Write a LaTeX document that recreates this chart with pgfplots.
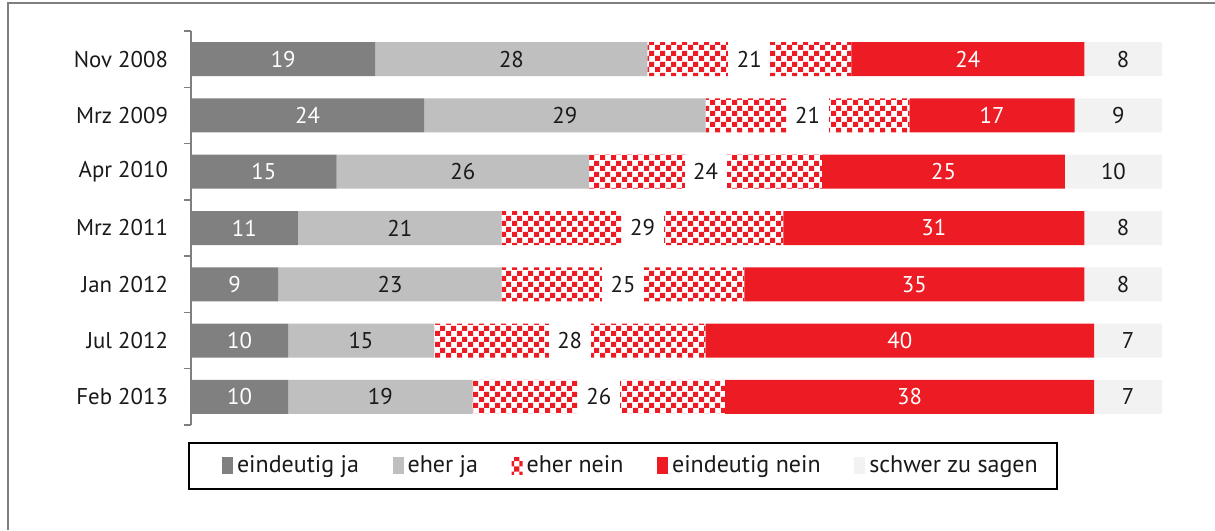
\documentclass[border=0pt]{standalone}
\usepackage{pgfplots}
\pgfplotsset{compat=1.18}
\usepackage{pgfplotstable}
\usepackage{fontspec}
\setmainfont{PT Sans}
\usetikzlibrary{patterns}
\definecolor{cA}{HTML}{808080}
\definecolor{cB}{HTML}{BFBFBF}
\definecolor{cR}{HTML}{ED1C24}
\definecolor{cE}{HTML}{F2F2F2}
\definecolor{frm}{HTML}{7F7F7F}
\definecolor{txt}{HTML}{1A1A1A}
\pgfdeclarepatternformonly{checker}{\pgfpointorigin}{\pgfqpoint{5.3pt}{5.3pt}}{\pgfqpoint{5.3pt}{5.3pt}}{%
  \pgfpathrectangle{\pgfpointorigin}{\pgfqpoint{2.65pt}{2.65pt}}%
  \pgfpathrectangle{\pgfqpoint{2.65pt}{2.65pt}}{\pgfqpoint{2.65pt}{2.65pt}}%
  \pgfusepath{fill}}
\pgfplotstableread{
y a b c d e
7 19 28 21 24 8
6 24 29 21 17 9
5 15 26 24 25 10
4 11 21 29 31 8
3 9 23 25 35 8
2 10 15 28 40 7
1 10 19 26 38 7
}\data
\newcommand{\fnt}{\fontsize{11.4}{13.5}\selectfont}
\newcommand{\lfnt}{\fontsize{12}{14}\selectfont}
\begin{document}
\begin{tikzpicture}
\path[use as bounding box] (0,0) rectangle (607.5pt,265pt);
\draw[frm, line width=0.75pt] (4pt,0) -- (4pt,263.5pt) -- (607.5pt,263.5pt);
\pgfplotsset{basestyle/.style={
  scale only axis, width=485.5pt, height=197pt, at={(95.5pt,52.5pt)}, anchor=south west,
  xmin=0, xmax=100, ymin=0.5, ymax=7.5}}
\begin{axis}[basestyle, xbar stacked, bar width=17pt,
  axis x line=none, axis y line*=left,
  y axis line style={draw=frm, line width=0.75pt},
  ytick={1,...,7},
  yticklabels={Feb 2013,Jul 2012,Jan 2012,Mrz 2011,Apr 2010,Mrz 2009,Nov 2008},
  minor ytick={0.5,1.5,...,7.5},
  major tick length=0pt, minor tick length=3.5pt, tick align=outside,
  minor tick style={draw=frm, line width=0.75pt},
  yticklabel style={font=\fnt, xshift=-8pt, text=txt},
  legend columns=5,
  legend image code/.code={\path (-9pt,0pt); \fill[#1, draw=none] (0pt,-4.25pt) rectangle (5.5pt,4.25pt);},
  legend style={at={(0,0)}, anchor=north west, xshift=-1.5pt, yshift=-8.5pt,
    draw=black, line width=1pt, inner xsep=7.5pt, inner ysep=4.5pt, font=\lfnt, text=txt,
    /tikz/every even column/.append style={column sep=5.8pt}},
]
\addplot[fill=cA, draw=none] table[x=a, y=y]{\data};
\addplot[fill=cB, draw=none] table[x=b, y=y]{\data};
\addplot[pattern=checker, pattern color=cR, draw=none] table[x=c, y=y]{\data};
\addplot[fill=cR, draw=none] table[x=d, y=y]{\data};
\addplot[fill=cE, draw=none] table[x=e, y=y]{\data};
\legend{eindeutig ja, eher ja, eher nein, eindeutig nein, schwer zu sagen}
\end{axis}
\begin{axis}[basestyle, hide axis, clip=false,
  every node near coord/.append style={anchor=center, font=\fnt}]
\addplot[draw=none, mark=none, nodes near coords, point meta=explicit symbolic,
  every node near coord/.append style={text=white}]
  table[x expr=\thisrow{a}/2, y=y, meta=a]{\data};
\addplot[draw=none, mark=none, nodes near coords, point meta=explicit symbolic,
  every node near coord/.append style={text=txt}]
  table[x expr=\thisrow{a}+\thisrow{b}/2, y=y, meta=b]{\data};
\addplot[draw=none, mark=none, nodes near coords, point meta=explicit symbolic,
  every node near coord/.append style={text=txt, fill=white, minimum width=21pt, minimum height=17.6pt, inner sep=0pt}]
  table[x expr=\thisrow{a}+\thisrow{b}+\thisrow{c}/2, y=y, meta=c]{\data};
\addplot[draw=none, mark=none, nodes near coords, point meta=explicit symbolic,
  every node near coord/.append style={text=white}]
  table[x expr=\thisrow{a}+\thisrow{b}+\thisrow{c}+\thisrow{d}/2, y=y, meta=d]{\data};
\addplot[draw=none, mark=none, nodes near coords, point meta=explicit symbolic,
  every node near coord/.append style={text=txt}]
  table[x expr=\thisrow{a}+\thisrow{b}+\thisrow{c}+\thisrow{d}+\thisrow{e}/2, y=y, meta=e]{\data};
\end{axis}
\end{tikzpicture}
\end{document}
